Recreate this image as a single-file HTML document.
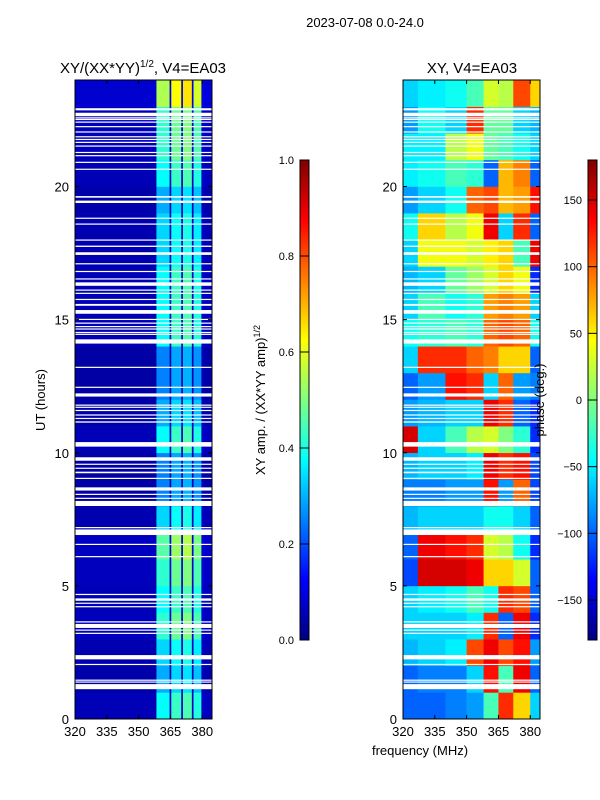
<!DOCTYPE html>
<html><head><meta charset="utf-8"><style>
body{margin:0;background:#fff;}
svg{display:block;font-family:"Liberation Sans",sans-serif;}
</style></head><body>
<svg id="fig" width="600" height="800" xmlns="http://www.w3.org/2000/svg">
<text x="365" y="27" font-size="13" text-anchor="middle">2023-07-08 0.0-24.0</text>
<text x="143" y="73" font-size="15" text-anchor="middle">XY/(XX*YY)<tspan font-size="10" dy="-6">1/2</tspan><tspan dy="6">, V4=EA03</tspan></text>
<text x="472" y="73" font-size="15" text-anchor="middle">XY, V4=EA03</text>
<text transform="translate(45,400) rotate(-90)" font-size="13" text-anchor="middle">UT (hours)</text>
<text x="420" y="755" font-size="13" text-anchor="middle">frequency (MHz)</text>
<text transform="translate(265,400) rotate(-90)" font-size="13" text-anchor="middle">XY amp. / (XX*YY amp)<tspan font-size="9" dy="-5">1/2</tspan></text>
<g id="layer"></g>
<text transform="translate(544,400) rotate(-90)" font-size="13" text-anchor="middle">phase (deg.)</text>
</svg>
<script>
// ---- data ----
const hours = [0,1,2,3,4,5,6,7,8,9,10,11,12,13,14,15,16,17,18,19,20,21,22,23];
const ampFreqEdges = [320,358.4,364.6,365.4,370.1,370.9,375.1,375.9,379.6,380.4,384.6];
const ampColProfile = [0.06,0.42,0.08,0.48,0.08,0.5,0.08,0.45,0.08,0.07];
const ampRowScale = [0.9,0.7,0.8,1.0,0.9,1.0,1.1,0.8,0.6,0.6,0.9,0.7,0.6,0.6,0.9,0.9,0.9,0.8,0.8,0.7,0.9,1.0,1.0,1.3];
const phaseFreqEdges = [320,327,340,350,358,365,372,380,384.6];
const phaseRows = [
[-100,-100,-90,-80,-20,120,60,-60],
[-100,-90,-90,-60,130,-20,140,-100],
[-70,-60,-50,110,140,110,130,-80],
[-60,-60,-60,-50,120,-100,140,-120],
[-60,-50,-40,-20,-40,120,110,-100],
[-110,150,150,140,60,60,30,-100],
[-100,140,130,120,30,20,-40,-120],
[-70,-60,-60,-60,-40,-40,-60,-100],
[-90,-90,-80,-80,130,-80,100,-110],
[-70,-60,-60,-50,140,120,130,-110],
[150,-60,-20,20,30,0,-30,-120],
[-80,-70,-60,-60,140,120,-100,-120],
[-100,-80,130,120,-60,100,-80,-90],
[-60,120,120,100,90,60,60,-100],
[-40,-30,-20,-30,100,110,100,-40],
[-60,-20,-40,-30,80,90,80,-60],
[-70,-60,-10,10,30,60,40,-120],
[-60,40,40,30,50,60,-20,140],
[-40,60,20,40,140,-60,120,-100],
[-80,-60,-40,100,110,70,80,130],
[-50,-40,-20,-30,-100,70,90,-100],
[-50,-50,20,40,-10,-20,-40,-60],
[-80,-40,-60,120,-10,-10,-60,-70],
[-60,-50,-40,-20,30,20,110,60]];
const flagged = [[1.12,1.31],[1.37,1.41],[1.44,1.48],[2.03,2.07],[2.24,2.40],[3.20,3.24],[3.32,3.36],[3.42,3.57],[3.63,3.67],[4.20,4.24],[4.33,4.37],[4.44,4.53],[4.66,4.70],[6.08,6.12],[6.54,6.58],[6.91,7.12],[7.17,7.21],[8.00,8.19],[8.27,8.31],[8.42,8.46],[8.58,8.70],[9.02,9.06],[9.23,9.29],[9.40,9.44],[9.55,9.59],[9.70,9.83],[10.23,10.40],[11.13,11.18],[11.27,11.31],[11.40,11.44],[11.57,11.61],[11.69,11.73],[11.77,11.81],[12.11,12.23],[12.44,12.48],[13.19,13.23],[14.10,14.26],[14.43,14.47],[14.50,14.54],[14.63,14.67],[14.72,14.76],[14.85,14.89],[14.99,15.03],[15.22,15.36],[15.52,15.59],[15.74,15.78],[15.97,16.01],[16.09,16.13],[16.27,16.40],[16.51,16.55],[16.79,16.83],[17.08,17.12],[17.43,17.53],[17.73,17.78],[17.97,18.01],[18.57,18.61],[18.79,18.83],[19.38,19.47],[19.58,19.64],[20.63,20.67],[20.89,20.93],[21.14,21.18],[21.26,21.30],[21.50,21.54],[21.64,21.68],[21.75,21.79],[21.85,21.89],[22.03,22.07],[22.23,22.27],[22.40,22.44],[22.50,22.54],[22.56,22.60],[22.64,22.77],[22.86,22.94]];
const hourTicks = [0,5,10,15,20];
const freqTicks = [320,335,350,365,380];
const ampTicks = [0.0,0.2,0.4,0.6,0.8,1.0];
const phaseTicks = [-150,-100,-50,0,50,100,150];

// ---- scales ----
const NS = "http://www.w3.org/2000/svg";
const layer = document.getElementById('layer');
const Y0 = 719, Y1 = 80;
function yH(h){ return Y0 - (h/24)*(Y0-Y1); }
function xF(left, f){ return left + (f-320)/(384.6-320)*137; }
function jet(t){
  t = Math.max(0, Math.min(1, t));
  const c = v => Math.round(255*Math.max(0, Math.min(1, v)));
  return `rgb(${c(1.5-Math.abs(4*t-3))},${c(1.5-Math.abs(4*t-2))},${c(1.5-Math.abs(4*t-1))})`;
}
function mk(tag, attrs){
  const e = document.createElementNS(NS, tag);
  for (const k in attrs) e.setAttribute(k, attrs[k]);
  layer.appendChild(e);
  return e;
}
const panels = [{left:75, kind:'amp'}, {left:403, kind:'phase'}];
panels.forEach(p => {
  const L = p.left;
  hours.forEach((h, r) => {
    const edges = p.kind === 'amp' ? ampFreqEdges : phaseFreqEdges;
    for (let c = 0; c < edges.length-1; c++) {
      const val = p.kind === 'amp' ? ampColProfile[c]*ampRowScale[r] : phaseRows[r][c];
      const t = p.kind === 'amp' ? val : (val+180)/360;
      const x0 = xF(L, edges[c]), x1 = xF(L, edges[c+1]);
      const cell = mk('rect', {x:x0, y:yH(h+1), width:x1-x0+0.3, height:yH(h)-yH(h+1)+0.3, fill:jet(t)});
      
      
    }
  });
  flagged.forEach(fr => {
    const fl = mk('rect', {x:L, y:yH(fr[1]), width:137, height:Math.max(1.2, yH(fr[0])-yH(fr[1])), fill:'#fff'});
    
    
  });
  const frame = mk('rect', {x:L, y:Y1, width:137, height:Y0-Y1, fill:'none', stroke:'#000', 'stroke-width':1});
  
  
  hourTicks.forEach(h => {
    const y = yH(h);
    mk('line', {x1:L, x2:L+4, y1:y, y2:y, stroke:'#000'});
    mk('line', {x1:L+137, x2:L+133, y1:y, y2:y, stroke:'#000'});
    const lb = mk('text', {x:L-6, y:y+5, 'font-size':13, 'text-anchor':'end'});
    lb.textContent = h;
    
    
  });
  freqTicks.forEach(f => {
    const x = xF(L, f);
    mk('line', {x1:x, x2:x, y1:Y0, y2:Y0-4, stroke:'#000'});
    mk('line', {x1:x, x2:x, y1:Y1, y2:Y1+4, stroke:'#000'});
    const lb = mk('text', {x:x, y:736, 'font-size':13, 'text-anchor':'middle'});
    lb.textContent = f;
    
    
  });
});
// ---- colorbars ----
function colorbar(x, id, ticks, lo, hi, decimals){
  const defs = mk('defs', {});
  const g = document.createElementNS(NS, 'linearGradient');
  g.setAttribute('id', id); g.setAttribute('x1','0'); g.setAttribute('y1','1'); g.setAttribute('x2','0'); g.setAttribute('y2','0');
  for (let i = 0; i <= 16; i++) {
    const s = document.createElementNS(NS, 'stop');
    s.setAttribute('offset', i/16); s.setAttribute('stop-color', jet(i/16));
    g.appendChild(s);
  }
  defs.appendChild(g);
  const bar = mk('rect', {x:x, y:160, width:9, height:480, fill:`url(#${id})`, stroke:'#000', 'stroke-width':1});
  
  
  ticks.forEach(v => {
    const y = 640 - (v-lo)/(hi-lo)*480;
    mk('line', {x1:x, x2:x+9, y1:y, y2:y, stroke:'#000'});
    const lb = mk('text', {x:x-6, y:y+4, 'font-size':11, 'text-anchor':'end'});
    lb.textContent = v.toFixed(decimals).replace('-', '\u2212');
    
    
  });
}
colorbar(300, 'amp-colorbar', ampTicks, 0, 1, 1);
colorbar(588, 'phase-colorbar', phaseTicks, -180, 180, 0);
</script>
</body></html>
